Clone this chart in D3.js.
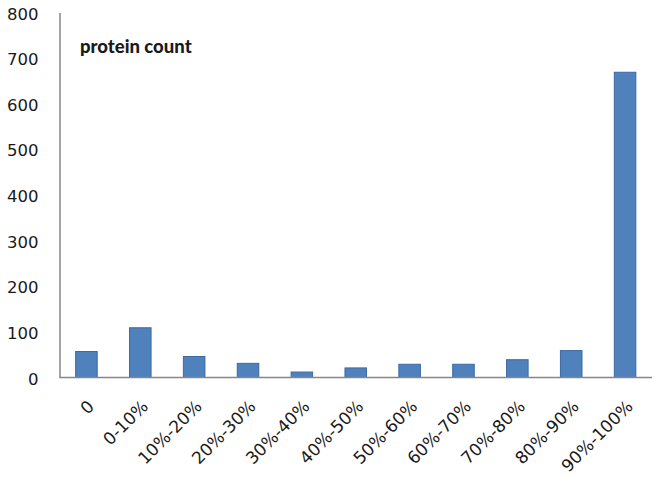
<!DOCTYPE html>
<html>
<head>
<meta charset="utf-8">
<script src="https://cdnjs.cloudflare.com/ajax/libs/d3/7.8.5/d3.min.js"></script>
<style>
  body { margin: 0; background: #fff; }
  text { font-family: "DejaVu Sans", Verdana, sans-serif; fill: #1a1a1a; }
</style>
</head>
<body>
<script>
var Width = 658;
var Height = 479;

// data
var categories = ["0", "0-10%", "10%-20%", "20%-30%", "30%-40%", "40%-50%",
  "50%-60%", "60%-70%", "70%-80%", "80%-90%", "90%-100%"];
var proteinCount = [57, 109, 46, 31, 12, 21, 29, 29, 39, 59, 669];
var yTicks = [0, 100, 200, 300, 400, 500, 600, 700, 800];
var chartTitle = "protein count";

var margin = { left: 59.5, right: 6, top: 12.5, bottom: 101.5 };

var svg = d3.select("body").append("svg")
  .attr("width", Width)
  .attr("height", Height);

var x = d3.scaleBand()
  .domain(categories)
  .range([margin.left, Width - margin.right])
  .paddingInner(0.6)
  .paddingOuter(0.3);

var y = d3.scaleLinear()
  .domain([0, 800])
  .range([Height - margin.bottom, margin.top]);

// bars
svg.append("g")
  .selectAll("rect")
  .data(proteinCount)
  .enter()
  .append("rect")
  .attr("x", function (d, i) { return x(categories[i]); })
  .attr("y", function (d) { return y(d); })
  .attr("width", x.bandwidth())
  .attr("height", function (d) { return y(0) - y(d); })
  .attr("fill", "#4f81bd")
  .attr("stroke", "#3b6aa3")
  .attr("stroke-width", 1);

// y axis
var yAxis = svg.append("g")
  .attr("transform", "translate(" + margin.left + ",0)")
  .call(d3.axisLeft(y).tickValues(yTicks).tickSize(0).tickPadding(21));
yAxis.select(".domain").attr("stroke", "#868686").attr("stroke-width", 1.5);
yAxis.selectAll("text")
  .attr("font-size", 16.5)
  .attr("dy", "0.4em")
  .style("font-family", "DejaVu Sans");

// x axis
var xAxis = svg.append("g")
  .attr("transform", "translate(0," + y(0) + ")")
  .call(d3.axisBottom(x).tickSize(0).tickPadding(0));
xAxis.select(".domain").attr("stroke", "#868686").attr("stroke-width", 1.5)
  .attr("d", "M" + margin.left + ",0H" + (Width - 6));
xAxis.selectAll("text")
  .attr("font-size", 17)
  .attr("text-anchor", "end")
  .attr("dy", 0)
  .attr("y", 0)
  .attr("transform", "translate(" + (x.bandwidth() / 2 - 2) + ",30) rotate(-45)")
  .style("font-family", "DejaVu Sans");

// title
svg.append("text")
  .attr("x", 80)
  .attr("y", 53)
  .attr("font-size", 18.5)
  .attr("font-weight", "900")
  .style("font-family", "Lato")
  .text(chartTitle);
</script>
</body>
</html>
